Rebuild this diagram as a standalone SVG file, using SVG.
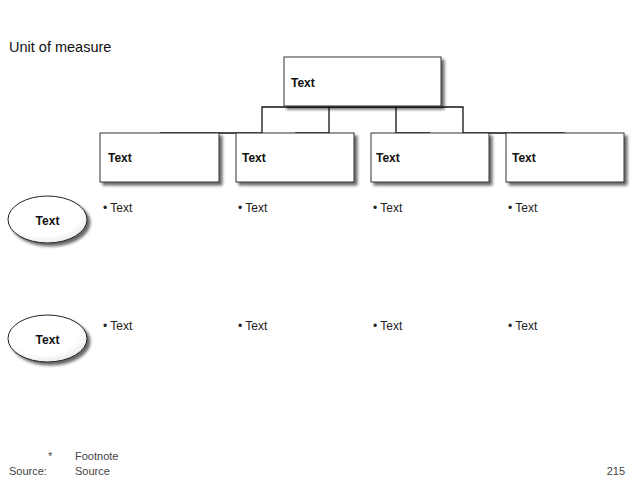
<svg xmlns="http://www.w3.org/2000/svg" width="640" height="480" viewBox="0 0 640 480">
<defs>
<filter id="sh" x="-10%" y="-20%" width="130%" height="150%">
<feGaussianBlur in="SourceAlpha" stdDeviation="1.5"/>
<feOffset dx="2.5" dy="2.5" result="b"/>
<feComponentTransfer><feFuncA type="linear" slope="0.6"/></feComponentTransfer>
<feMerge><feMergeNode/><feMergeNode in="SourceGraphic"/></feMerge>
</filter>
<radialGradient id="eg" cx="0.45" cy="0.4" r="0.65">
<stop offset="0.7" stop-color="#ffffff"/>
<stop offset="1" stop-color="#e4e4e4"/>
</radialGradient>
</defs>
<style>
.box{fill:#fff;stroke:#333;stroke-width:1;filter:url(#sh)}
.ell{fill:url(#eg);stroke:#222;stroke-width:1;filter:url(#sh)}
.bt{font-family:"Liberation Sans",Arial,sans-serif;font-size:12px;font-weight:bold;fill:#111}
.t{font-family:"Liberation Sans",Arial,sans-serif;font-size:12px;fill:#222}
.s{font-family:"Liberation Sans",Arial,sans-serif;font-size:11px;fill:#444}
.con{fill:none;stroke:#111;stroke-width:1.3}
</style>
<rect width="640" height="480" fill="#fff"/>
<text x="9" y="52" font-family="'Liberation Sans',Arial,sans-serif" font-size="14.5px" fill="#111">Unit of measure</text>
<g id="connectors">
<path class="con" d="M160,133 H262 V107 H463 V133 H565"/>
<path class="con" d="M295,133 H329 V107"/>
<path class="con" d="M430,133 H396 V107"/>
</g>
<g id="top"><rect class="box" x="284" y="57" width="157" height="49"/><text class="bt" x="291" y="87">Text</text></g>
<g id="b1"><rect class="box" x="100" y="133" width="119" height="49"/><text class="bt" x="108" y="162">Text</text></g>
<g id="b2"><rect class="box" x="236" y="133" width="118" height="49"/><text class="bt" x="242" y="162">Text</text></g>
<g id="b3"><rect class="box" x="371" y="133" width="118" height="49"/><text class="bt" x="376" y="162">Text</text></g>
<g id="b4"><rect class="box" x="506" y="133" width="118" height="49"/><text class="bt" x="512" y="162">Text</text></g>
<g id="e1"><ellipse class="ell" cx="47.5" cy="219.5" rx="39.5" ry="23.5"/><text class="bt" x="47.5" y="225" text-anchor="middle">Text</text></g>
<g id="e2"><ellipse class="ell" cx="47.5" cy="338.5" rx="39.5" ry="23.5"/><text class="bt" x="47.5" y="344" text-anchor="middle">Text</text></g>
<g id="bullets">
<text class="t" x="103" y="212">• Text</text>
<text class="t" x="238" y="212">• Text</text>
<text class="t" x="373" y="212">• Text</text>
<text class="t" x="508" y="212">• Text</text>
<text class="t" x="103" y="330">• Text</text>
<text class="t" x="238" y="330">• Text</text>
<text class="t" x="373" y="330">• Text</text>
<text class="t" x="508" y="330">• Text</text>
</g>
<text class="s" x="48" y="460">*</text>
<text class="s" x="75" y="460">Footnote</text>
<text class="s" x="9" y="475">Source:</text>
<text class="s" x="75" y="475">Source</text>
<text class="s" x="625" y="475" text-anchor="end">215</text>
</svg>
